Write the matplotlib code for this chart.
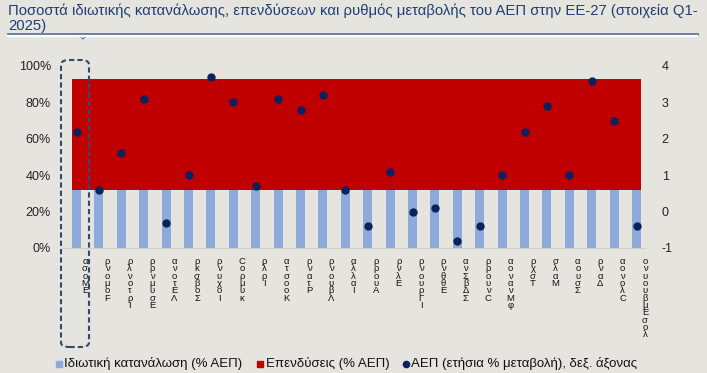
import matplotlib
matplotlib.use("Agg")
import matplotlib.pyplot as plt
import numpy as np
from matplotlib.patches import FancyBboxPatch, Polygon
from matplotlib.lines import Line2D
import matplotlib.transforms as mtransforms

plt.rcParams['font.family'] = ['Liberation Sans', 'DejaVu Sans']

# ---- data ----
labels = ["ασοΜΕ", "ρνομοF", "ρλνοτρΙ", "ρρνμυσΕ", "ανοτΕΛ", "ρκσβοΣ", "ρνυχοΙ",
          "Cορμυκ", "ρλρΙ", "ατσοοΚ", "ρνατΡ", "ρνουβΛ", "αλλαΙ", "ρρουΑ",
          "ρνλΕ", "ρνουρΓΙ", "ρνθθΕ", "ανΣβΔΣ", "ρρουνC", "αονανΜφ", "ρχσΤ",
          "σλαΜ", "αουσΣ", "ρναΔ", "αονολC", "ονυουβμΕσολ"]
consumption = [32] * 26          # % GDP
investment = [61] * 26           # % GDP (stacked on top)
gdp_growth = [2.2, 0.6, 1.6, 3.1, -0.3, 1.0, 3.7, 3.0, 0.7, 3.1, 2.8, 3.2, 0.6,
              -0.4, 1.1, 0.0, 0.1, -0.8, -0.4, 1.0, 2.2, 2.9, 1.0, 3.6, 2.5, -0.4]
left_ticks = [0, 20, 40, 60, 80, 100]
right_ticks = [-1, 0, 1, 2, 3, 4]
legend_names = ["Ιδιωτική κατανάλωση (% ΑΕΠ)", "Επενδύσεις (% ΑΕΠ)",
                "ΑΕΠ (ετήσια % μεταβολή), δεξ. άξονας"]
title = "Ποσοστά ιδιωτικής κατανάλωσης, επενδύσεων και ρυθμός μεταβολής του ΑΕΠ στην ΕΕ-27 (στοιχεία Q1-\n2025)"

BG = "#E5E4DF"
BLUE = "#8EAADB"
RED = "#C00000"
NAVY = "#0B2260"
TITLE_C = "#1F3F74"

W, H = 707, 373
fig = plt.figure(figsize=(W / 100, H / 100), dpi=100, facecolor=BG)

def fx(px): return px / W
def fy(py): return 1 - py / H

ax_l, ax_r, ax_t, ax_b = 62, 645, 66, 248
ax = fig.add_axes([fx(ax_l), fy(ax_b), fx(ax_r - ax_l), (ax_b - ax_t) / H])
ax.set_facecolor(BG)
n = len(labels)
x = np.arange(n)
bw = 0.4
cons_frac = np.array(consumption) / 100
inv_frac = np.array(investment) / 100

# red band: continuous, from first blue bar's left edge to last blue bar's right edge
lefts = x - 0.5
lefts[0] = x[0] - bw / 2
rights = x + 0.5
rights[-1] = x[-1] + bw / 2
ax.bar(lefts, inv_frac, width=rights - lefts, bottom=cons_frac, align='edge',
       color=RED, linewidth=0, zorder=2)
ax.bar(x, cons_frac, width=bw, color=BLUE, linewidth=0, zorder=2)

ax.set_xlim((ax_l - 76.5) / 22.4, (ax_r - 76.5) / 22.4)
ax.set_ylim(0, 1)
ax.set_yticks([t / 100 for t in left_ticks])
ax.set_yticklabels([f"{t}%" for t in left_ticks], fontsize=9, color="#222222")
ax.tick_params(axis='y', length=0, pad=8)
ax.set_xticks([])
for s in ['top', 'right', 'left']:
    ax.spines[s].set_visible(False)
ax.spines['bottom'].set_color("#CFCFCB")
ax.spines['bottom'].set_linewidth(0.8)

ax2 = ax.twinx()
ax2.plot(x, gdp_growth, 'o', color=NAVY, markersize=5, zorder=5)
ax2.set_ylim(-1, 4)
ax2.set_yticks(right_ticks)
ax2.set_yticklabels([str(t) for t in right_ticks], fontsize=9, color="#222222")
ax2.tick_params(axis='y', length=0, pad=12)
for s in ['top', 'right', 'left', 'bottom']:
    ax2.spines[s].set_visible(False)

# x labels (stacked glyphs)
trans = mtransforms.blended_transform_factory(ax.transData, ax.transAxes)
off = mtransforms.ScaledTranslation(8.5 / 100, 0, fig.dpi_scale_trans)
for i, lab in enumerate(labels):
    ax.text(x[i], -(257 - ax_b) / (ax_b - ax_t), "\n".join(lab), transform=trans + off,
            ha='center', va='top', fontsize=6.8, linespacing=0.76, color="#111111")

# title
fig.text(fx(8), fy(3), title, ha='left', va='top', fontsize=10.75, color=TITLE_C,
         linespacing=1.1)
fig.add_artist(Line2D([fx(8), fx(697)], [fy(33.5), fy(33.5)], color="#5B77A8", lw=2.0))
fig.add_artist(Line2D([fx(8), fx(697)], [fy(36.3), fy(36.3)], color="white", lw=1.6))
fig.add_artist(Polygon([[fx(78), fy(34)], [fx(88), fy(34)], [fx(83), fy(39)]], closed=True,
                       facecolor="white", edgecolor="#5B77A8", lw=0.8))

# dashed highlight box
box = FancyBboxPatch((fx(61), fy(347)), fx(28), (347 - 60) / H,
                     boxstyle="round,pad=0,rounding_size=0.012",
                     transform=fig.transFigure, fill=False, edgecolor="#34496E",
                     lw=1.5, linestyle=(0, (2.5, 1.5)), zorder=10)
fig.add_artist(box)

# legend (manual placement)
leg_y = fy(364)
markers = [('s', BLUE, 5), ('s', RED, 5), ('o', NAVY, 4.5)]
mk_x = [59, 260, 405.5]
tx_x = [64, 266, 411]
for (m, c, ms), mx, tx, name in zip(markers, mk_x, tx_x, legend_names):
    fig.add_artist(Line2D([fx(mx)], [leg_y], marker=m, ls='', color=c, markersize=ms))
    fig.text(fx(tx), leg_y, name, ha='left', va='center', fontsize=9.5, color="#111111")

fig.savefig("out.png", dpi=100, facecolor=BG)
